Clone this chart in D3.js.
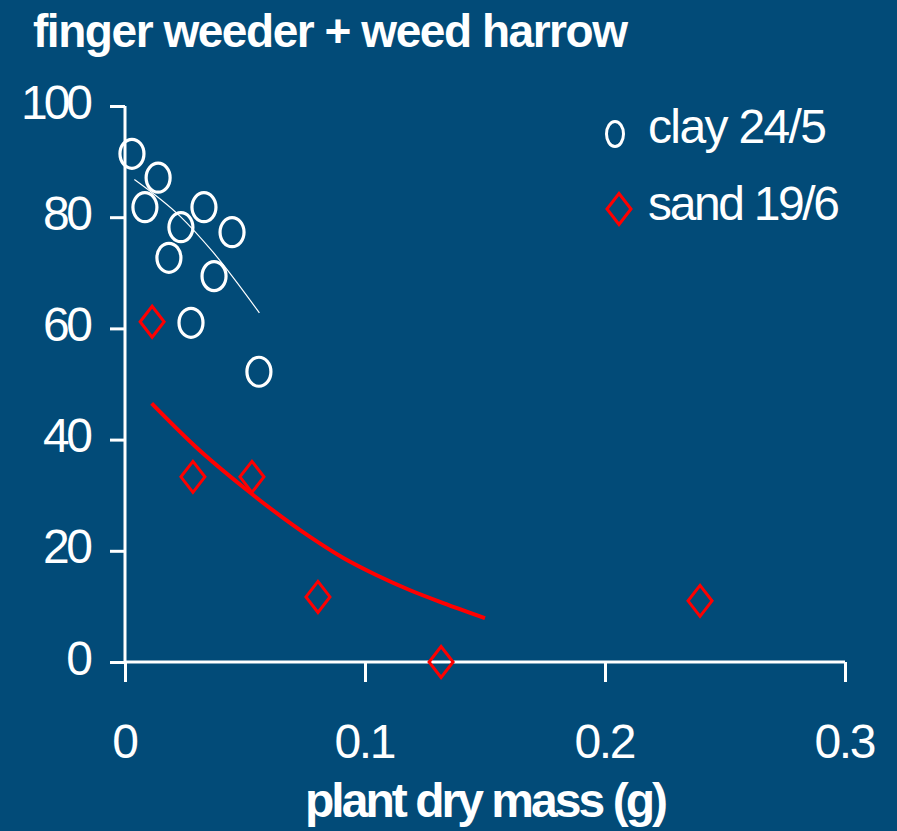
<!DOCTYPE html>
<html>
<head>
<meta charset="utf-8">
<script src="https://cdn.jsdelivr.net/npm/d3@7"></script>
<style>
    body { margin: 0; background: #024b78; }
    svg { display: block; }
    text { font-family: "Liberation Sans", Arial, sans-serif; fill: #fff; }
</style>
</head>
<body>
<svg></svg>
<script>
// clay 24/5 (circles)
const clayMass = [0.0029, 0.0083, 0.0138, 0.0183, 0.0233, 0.0275, 0.0329, 0.0371, 0.0446, 0.0558];
const clayControl = [91.4, 81.8, 87.1, 72.7, 78.2, 61.0, 81.8, 69.4, 77.3, 52.2];
// clay fitted line
const clayFitMass = [0.0039, 0.0229, 0.0367, 0.056];
const clayFitValue = [86.8, 80.2, 73.7, 62.8];

// sand 19/6 (diamonds)
const sandMass = [0.0113, 0.0283, 0.0529, 0.0804, 0.1317, 0.2396];
const sandControl = [61.2, 33.3, 33.3, 11.7, 0, 11.0];
// sand fitted curve
const sandFitMass = [0.0111, 0.0292, 0.05, 0.0771, 0.091, 0.1049, 0.1188, 0.1326, 0.15];
const sandFitValue = [46.5, 38.8, 31.2, 22.5, 18.7, 15.6, 12.9, 10.6, 7.9];

const xTicks = [0, 0.1, 0.2, 0.3];
const yTicks = [0, 20, 40, 60, 80, 100];
const seriesNames = ["clay 24/5", "sand 19/6"];
const titleText = "finger weeder + weed harrow";
const xLabel = "plant dry mass (g)";

const width = 897;
const height = 831;

const svg = d3.select("svg")
    .attr("width", width)
    .attr("height", height);

const x = d3.scaleLinear().domain([0, 0.3]).range([125, 845]);
const y = d3.scaleLinear().domain([0, 100]).range([662, 106]);

// text in the source is packed tight, so fit each one to a width
function squeeze(sel, w) {
    sel.attr("textLength", w).attr("lengthAdjust", "spacing");
}

// axes
const yAxis = svg.append("g")
    .attr("transform", "translate(" + x(0) + ",0)")
    .call(d3.axisLeft(y).tickValues(yTicks).tickSize(15).tickSizeOuter(0).tickPadding(0));
const xAxis = svg.append("g")
    .attr("transform", "translate(0," + y(0) + ")")
    .call(d3.axisBottom(x).tickValues(xTicks).tickSize(20).tickSizeOuter(0).tickPadding(0)
        .tickFormat(function (d) { return d === 0 ? "0" : d3.format(".1f")(d); }));

[yAxis, xAxis].forEach(function (ax) {
    ax.selectAll("path, line").attr("stroke", "#fff").attr("stroke-width", 3);
    ax.selectAll("text").attr("font-size", 48).attr("fill", "#fff");
});
yAxis.select(".domain").attr("d", "M0," + y(0) + "V" + y(100));
xAxis.select(".domain").attr("d", "M" + x(0) + ",0H" + x(0.3));

yAxis.selectAll(".tick text")
    .attr("x", -32)
    .attr("dy", 0)
    .attr("y", 12)
    .each(function (d) {
        if (d !== 0) squeeze(d3.select(this), d === 100 ? 72 : 50);
    });
xAxis.selectAll(".tick text")
    .attr("dy", 0)
    .attr("y", 96)
    .each(function (d) {
        if (d !== 0) squeeze(d3.select(this), 62);
    });

// fitted curves
const line = d3.line()
    .x(function (d) { return x(d[0]); })
    .y(function (d) { return y(d[1]); })
    .curve(d3.curveMonotoneX);

svg.append("path")
    .datum(d3.zip(clayFitMass, clayFitValue))
    .attr("d", line)
    .attr("fill", "none")
    .attr("stroke", "#fff")
    .attr("stroke-width", 1.2);

svg.append("path")
    .datum(d3.zip(sandFitMass, sandFitValue))
    .attr("d", line)
    .attr("fill", "none")
    .attr("stroke", "#ff0000")
    .attr("stroke-width", 4);

// markers
function diamond(cx, cy, hw, hh) {
    return "M" + cx + "," + (cy - hh) + "L" + (cx + hw) + "," + cy +
        "L" + cx + "," + (cy + hh) + "L" + (cx - hw) + "," + cy + "Z";
}

svg.append("g").selectAll("ellipse")
    .data(d3.zip(clayMass, clayControl))
    .enter().append("ellipse")
    .attr("cx", function (d) { return x(d[0]); })
    .attr("cy", function (d) { return y(d[1]); })
    .attr("rx", 12)
    .attr("ry", 14.5)
    .attr("fill", "none")
    .attr("stroke", "#fff")
    .attr("stroke-width", 3.2);

svg.append("g").selectAll("path")
    .data(d3.zip(sandMass, sandControl))
    .enter().append("path")
    .attr("d", function (d) { return diamond(x(d[0]), y(d[1]), 12, 15.5); })
    .attr("fill", "none")
    .attr("stroke", "#ff0000")
    .attr("stroke-width", 3)
    .attr("stroke-linejoin", "miter");

// legend
const legend = svg.append("g");
legend.append("ellipse")
    .attr("cx", 615).attr("cy", 134)
    .attr("rx", 8.5).attr("ry", 12.5)
    .attr("fill", "none").attr("stroke", "#fff").attr("stroke-width", 3);
legend.append("path")
    .attr("d", diamond(619, 209, 12, 15.5))
    .attr("fill", "none").attr("stroke", "#ff0000").attr("stroke-width", 3);
legend.selectAll("text")
    .data(seriesNames)
    .enter().append("text")
    .attr("x", 648)
    .attr("y", function (d, i) { return 143 + i * 77; })
    .attr("font-size", 48)
    .text(function (d) { return d; })
    .each(function (d, i) { squeeze(d3.select(this), i === 0 ? 179 : 192); });

// title and axis label
svg.append("text")
    .attr("x", 33).attr("y", 47)
    .attr("font-size", 46)
    .attr("font-weight", "bold")
    .text(titleText)
    .call(squeeze, 595);

svg.append("text")
    .attr("x", 305).attr("y", 817)
    .attr("font-size", 48)
    .attr("font-weight", "bold")
    .text(xLabel)
    .call(squeeze, 363);
</script>
</body>
</html>
